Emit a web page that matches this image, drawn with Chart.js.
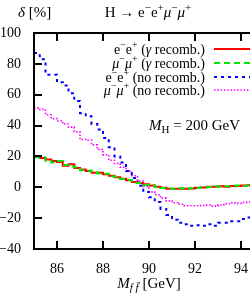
<!DOCTYPE html>
<html><head><meta charset="utf-8">
<script src="https://cdn.jsdelivr.net/npm/chart.js@4/dist/chart.umd.min.js"></script>
<style>
html,body{margin:0;padding:0;background:#fff;overflow:hidden;width:250px;height:295px}
#wrap{position:absolute;left:0;top:0;width:268px;height:295px}
</style>
</head><body><div id="wrap"><canvas id="c" width="268" height="295"></canvas></div>
<script>
// Bin edges of the invariant-mass histogram [GeV]
const binEdges = [85,85.25,85.5,85.75,86,86.25,86.5,86.75,87,87.25,87.5,87.75,88,88.25,88.5,88.75,89,89.25,89.5,89.75,90,90.25,90.5,90.75,91,91.25,91.5,91.75,92,92.25,92.5,92.75,93,93.25,93.5,93.75,94,94.25,94.5,94.75,95];
// delta [%] per bin
const eeRecomb = [20,19,18,17,16.4,14,15,12.5,11.5,10.5,9.5,9.5,8.4,7.5,6.5,5.6,4.5,3.4,2.7,1.9,1.2,0.4,-0.3,-0.9,-1,-0.9,-1,-0.8,-0.3,-0.2,0.4,0.3,0.6,0.4,0.9,0.8,1.2,1.3,1.2,1.5];
const mmRecomb = [19.5,19.5,17,16,17,14.5,13.5,13,11,10.8,9.8,9,8.8,7,6.8,5.3,4.8,3,2.8,1.5,1.4,0.2,-0.5,-0.8,-1.1,-0.7,-1.1,-0.6,-0.5,0.1,0.2,0.6,0.4,0.7,0.7,1.1,0.9,1.4,1.1,1.6];
const eeNoRecomb = [87,83,73,73,68,66,61,56,48,46,41,37.5,32,26,20,16,10.5,6,1,-3,-6.5,-9.5,-14,-18,-21,-23,-24,-25,-24.6,-25,-24,-25,-23,-23,-22,-22,-20.5,-19.6,-19,-18];
const mmNoRecomb = [51.5,50.5,47,44.5,43,41,39,36,31,30.5,27.5,24.6,21,17.5,15.5,13,10.5,7.5,4,0.3,-3,-4.8,-7,-8.8,-10,-11,-12,-12,-12,-11.8,-11.5,-12.2,-11.5,-10.6,-10,-10.4,-9.8,-9.5,-9,-8.5];
const xTickValues = [86,88,90,92,94];
const yTickValues = [-40,-20,0,20,40,60,80,100];

const FAM = "'Liberation Serif', 'DejaVu Serif', serif";

function hist(vals){
  return binEdges.map((x,i)=>({x:x, y: vals[Math.min(i, vals.length-1)]}));
}

function drawRich(ctx, segs, x, y, align, size){
  const fontFor = s => {
    const small = (s==='sup'||s==='sub'||s==='isub');
    const sz = small ? Math.round(size*0.72) : size;
    const it = (s==='i'||s==='isub');
    return (it?'italic ':'') + sz + 'px ' + FAM;
  };
  let w = 0;
  for (const [t,s] of segs){ ctx.font = fontFor(s); w += ctx.measureText(t).width; }
  let cx = align==='right' ? x - w : (align==='center' ? x - w/2 : x);
  ctx.textBaseline='alphabetic'; ctx.textAlign='left'; ctx.fillStyle='#000';
  for (const [t,s] of segs){
    ctx.font = fontFor(s);
    const dy = s==='sup' ? -size*0.38 : ((s==='sub'||s==='isub') ? size*0.22 : 0);
    ctx.fillText(t, cx, y+dy);
    cx += ctx.measureText(t).width;
  }
}

const legendItems = [
  {segs:[['e','r'],['−','sup'],['e','r'],['+','sup'],[' (','r'],['γ','i'],[' recomb.)','r']], color:'#ff0000', dash:[], width:2},
  {segs:[['μ','i'],['−','sup'],['μ','i'],['+','sup'],[' (','r'],['γ','i'],[' recomb.)','r']], color:'#00e600', dash:[6,4], width:2},
  {segs:[['e','r'],['−','sup'],['e','r'],['+','sup'],[' (no recomb.)','r']], color:'#0000ff', dash:[3,4], width:2},
  {segs:[['μ','i'],['−','sup'],['μ','i'],['+','sup'],[' (no recomb.)','r']], color:'#ff00ff', dash:[1.5,1.8], width:1.6}
];

const framePlugin = {
  id:'frame',
  afterDatasetsDraw(chart){
    const ctx = chart.ctx, a = chart.chartArea, xs = chart.scales.x, ys = chart.scales.y;
    ctx.save();
    ctx.strokeStyle = '#000'; ctx.lineWidth = 2; ctx.setLineDash([]);
    ctx.strokeRect(a.left, a.top, a.right-a.left, a.bottom-a.top);
    ctx.beginPath();
    for (const v of xTickValues){
      const px = Math.round(xs.getPixelForValue(v));
      ctx.moveTo(px, a.bottom); ctx.lineTo(px, a.bottom-8);
      ctx.moveTo(px, a.top); ctx.lineTo(px, a.top+8);
    }
    for (const v of yTickValues){
      const py = Math.round(ys.getPixelForValue(v));
      ctx.moveTo(a.left, py); ctx.lineTo(a.left+8, py);
      ctx.moveTo(a.right, py); ctx.lineTo(a.right-8, py);
    }
    ctx.stroke();
    // legend
    const rows = [49, 63, 77, 90];
    legendItems.forEach((it, i) => {
      drawRich(ctx, it.segs, 205, rows[i]+4.5, 'right', 14);
      ctx.beginPath();
      ctx.strokeStyle = it.color; ctx.lineWidth = it.width; ctx.setLineDash(it.dash);
      ctx.moveTo(214, rows[i]); ctx.lineTo(268, rows[i]); ctx.stroke();
    });
    ctx.setLineDash([]);
    // M_H label
    drawRich(ctx, [['M','i'],['H','sub'],[' = 200 GeV','r']], 149, 130, 'left', 15);
    ctx.restore();
  },
  afterDraw(chart){
    const ctx = chart.ctx;
    ctx.save();
    drawRich(ctx, [['H → e','r'],['−','sup'],['e','r'],['+','sup'],['μ','i'],['−','sup'],['μ','i'],['+','sup']], 148, 17, 'center', 15);
    drawRich(ctx, [['δ','i'],[' [%]','r']], 18, 17, 'left', 15);
    drawRich(ctx, [['M','i'],['f f\u0304','isub'],[' [GeV]','r']], 149, 288, 'center', 15);
    ctx.restore();
  }
};

new Chart(document.getElementById('c'), {
  type:'line',
  data:{ datasets:[
    {label:'e-e+ (γ recomb.)', data:hist(eeRecomb), borderColor:'#ff0000', borderWidth:2, stepped:true, pointRadius:0, fill:false, order:1},
    {label:'μ-μ+ (γ recomb.)', data:hist(mmRecomb), borderColor:'#00e600', borderWidth:2, borderDash:[6,4], stepped:true, pointRadius:0, fill:false, order:0},
    {label:'e-e+ (no recomb.)', data:hist(eeNoRecomb), borderColor:'#0000ff', borderWidth:2, borderDash:[3,4], stepped:true, pointRadius:0, fill:false, order:2},
    {label:'μ-μ+ (no recomb.)', data:hist(mmNoRecomb), borderColor:'#ff00ff', borderWidth:1.6, borderDash:[1.5,1.8], stepped:true, pointRadius:0, fill:false, order:3}
  ]},
  options:{
    responsive:false, animation:false, devicePixelRatio:1,
    layout:{padding:{top:33, right:4, left:0, bottom:0}},
    plugins:{legend:{display:false}, tooltip:{enabled:false}, title:{display:false}},
    scales:{
      x:{type:'linear', min:85, max:95,
        afterBuildTicks(s){ s.ticks = xTickValues.map(v=>({value:v})); },
        afterFit(s){ s.height = 46; },
        grid:{display:false}, border:{display:false},
        ticks:{color:'#000', font:{family:FAM, size:14}, padding:4, maxRotation:0}
      },
      y:{type:'linear', min:-40, max:100,
        afterBuildTicks(s){ s.ticks = yTickValues.map(v=>({value:v})); },
        afterFit(s){ s.width = 34; },
        grid:{display:false}, border:{display:false},
        ticks:{color:'#000', font:{family:FAM, size:14}, padding:5, callback:v=>String(v).replace('-', '\u2212')}
      }
    }
  },
  plugins:[framePlugin]
});
</script>
</body></html>
